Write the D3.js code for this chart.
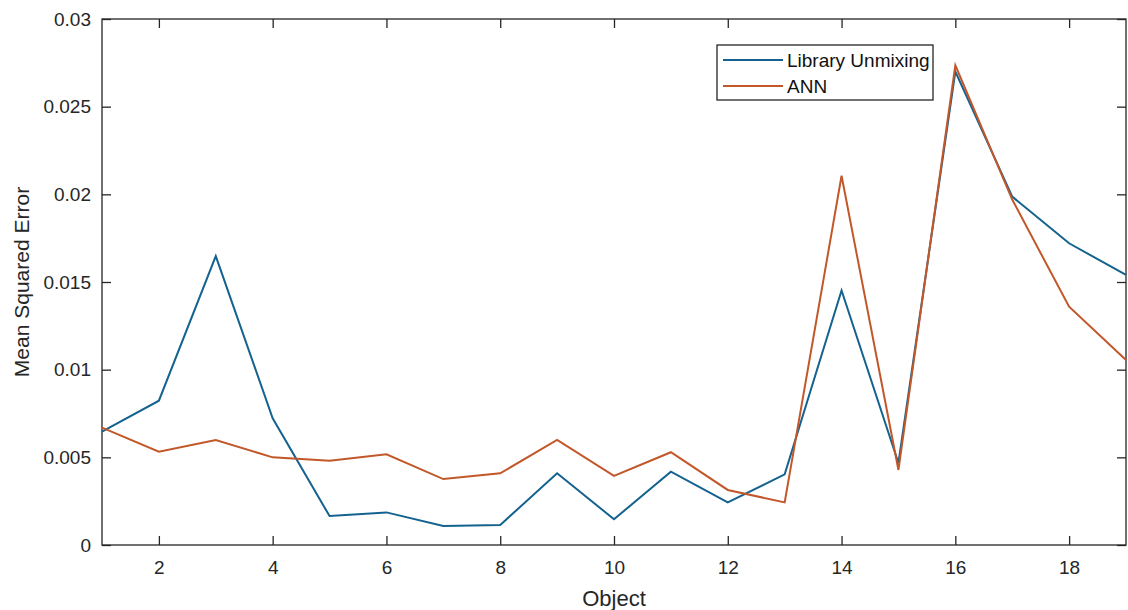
<!DOCTYPE html>
<html>
<head>
<meta charset="utf-8">
<script src="https://cdn.jsdelivr.net/npm/d3@7"></script>
<style>
  html, body { margin: 0; padding: 0; background: #fff; }
  svg { display: block; font-family: "Liberation Sans", Arial, Helvetica, sans-serif; }
</style>
</head>
<body>
<svg id="chart" width="1128" height="610"></svg>
<script>
// Objects 1..19 and the mean squared error of each method
const objects = d3.range(1, 20);
const libraryUnmixing = [0.00646, 0.00823, 0.01648, 0.00723, 0.00165, 0.00186, 0.00108, 0.00114, 0.00409,
                         0.00147, 0.00418, 0.00243, 0.00403, 0.01452, 0.00468, 0.0270, 0.01987, 0.01721, 0.0154];
const ann = [0.00669, 0.00532, 0.00599, 0.0050, 0.00481, 0.00517, 0.00376, 0.00409, 0.00599,
             0.00394, 0.00529, 0.00314, 0.00243, 0.02106, 0.00428, 0.02736, 0.0197, 0.01359, 0.01055];
const xTicks = [2, 4, 6, 8, 10, 12, 14, 16, 18];
const yTicks = [0, 0.005, 0.01, 0.015, 0.02, 0.025, 0.03];
const yTickLabels = ["0", "0.005", "0.01", "0.015", "0.02", "0.025", "0.03"];
const seriesNames = ["Library Unmixing", "ANN"];
const seriesColors = ["#13628f", "#c2572a"];

const svg = d3.select("#chart");
const plotLeft = 102, plotRight = 1126, plotTop = 19, plotBottom = 545;

const x = d3.scaleLinear().domain([1, 19]).range([plotLeft, plotRight]);
const y = d3.scaleLinear().domain([0, 0.03]).range([plotBottom, plotTop]);

const axisColor = "#262626";
const tickLen = 9;

// Bottom axis with labels, top axis mirrored without labels (ticks point inward)
const gx = svg.append("g").attr("transform", `translate(0,${plotBottom})`)
  .call(d3.axisBottom(x).tickValues(xTicks).tickSize(-tickLen).tickPadding(16).tickFormat(d3.format("d")));
const gxTop = svg.append("g").attr("transform", `translate(0,${plotTop})`)
  .call(d3.axisTop(x).tickValues(xTicks).tickSize(-tickLen).tickFormat(""));
const gy = svg.append("g").attr("transform", `translate(${plotLeft},0)`)
  .call(d3.axisLeft(y).tickValues(yTicks).tickSize(-tickLen).tickPadding(11)
    .tickFormat((d, i) => yTickLabels[i]));
const gyRight = svg.append("g").attr("transform", `translate(${plotRight},0)`)
  .call(d3.axisRight(y).tickValues(yTicks).tickSize(-tickLen).tickFormat(""));

[gx, gxTop, gy, gyRight].forEach(g => {
  g.select(".domain").remove();
  g.selectAll(".tick line").attr("stroke", axisColor).attr("stroke-width", 1.3);
  g.selectAll(".tick text").attr("fill", axisColor).style("font-size", "19px")
    .style("font-family", "'Liberation Sans', Arial, sans-serif");
});

// Box around the plot area
svg.append("rect")
  .attr("x", plotLeft).attr("y", plotTop)
  .attr("width", plotRight - plotLeft).attr("height", plotBottom - plotTop)
  .attr("fill", "none").attr("stroke", axisColor).attr("stroke-width", 1.3);

// Series lines
const line = d3.line().x((d, i) => x(objects[i])).y(d => y(d));
[libraryUnmixing, ann].forEach((vals, k) => {
  svg.append("path")
    .datum(vals)
    .attr("d", line)
    .attr("fill", "none")
    .attr("stroke", seriesColors[k])
    .attr("stroke-width", 2)
    .attr("stroke-linejoin", "miter");
});

// Axis titles
svg.append("text")
  .attr("x", (plotLeft + plotRight) / 2).attr("y", 606)
  .attr("text-anchor", "middle")
  .attr("fill", axisColor)
  .style("font-size", "22px")
  .text("Object");
svg.append("text")
  .attr("transform", `translate(29,${(plotTop + plotBottom) / 2}) rotate(-90)`)
  .attr("text-anchor", "middle")
  .attr("fill", axisColor)
  .style("font-size", "21px")
  .text("Mean Squared Error");

// Legend
const legend = svg.append("g");
legend.append("rect")
  .attr("x", 717).attr("y", 45).attr("width", 216).attr("height", 55)
  .attr("fill", "#fff").attr("stroke", axisColor).attr("stroke-width", 1.3);
seriesNames.forEach((name, k) => {
  const ly = 60 + k * 26;
  legend.append("line")
    .attr("x1", 723).attr("x2", 783).attr("y1", ly).attr("y2", ly)
    .attr("stroke", seriesColors[k]).attr("stroke-width", 2);
  legend.append("text")
    .attr("x", 787).attr("y", ly + 7)
    .attr("fill", "#111")
    .style("font-size", "19px")
    .text(name);
});
</script>
</body>
</html>
